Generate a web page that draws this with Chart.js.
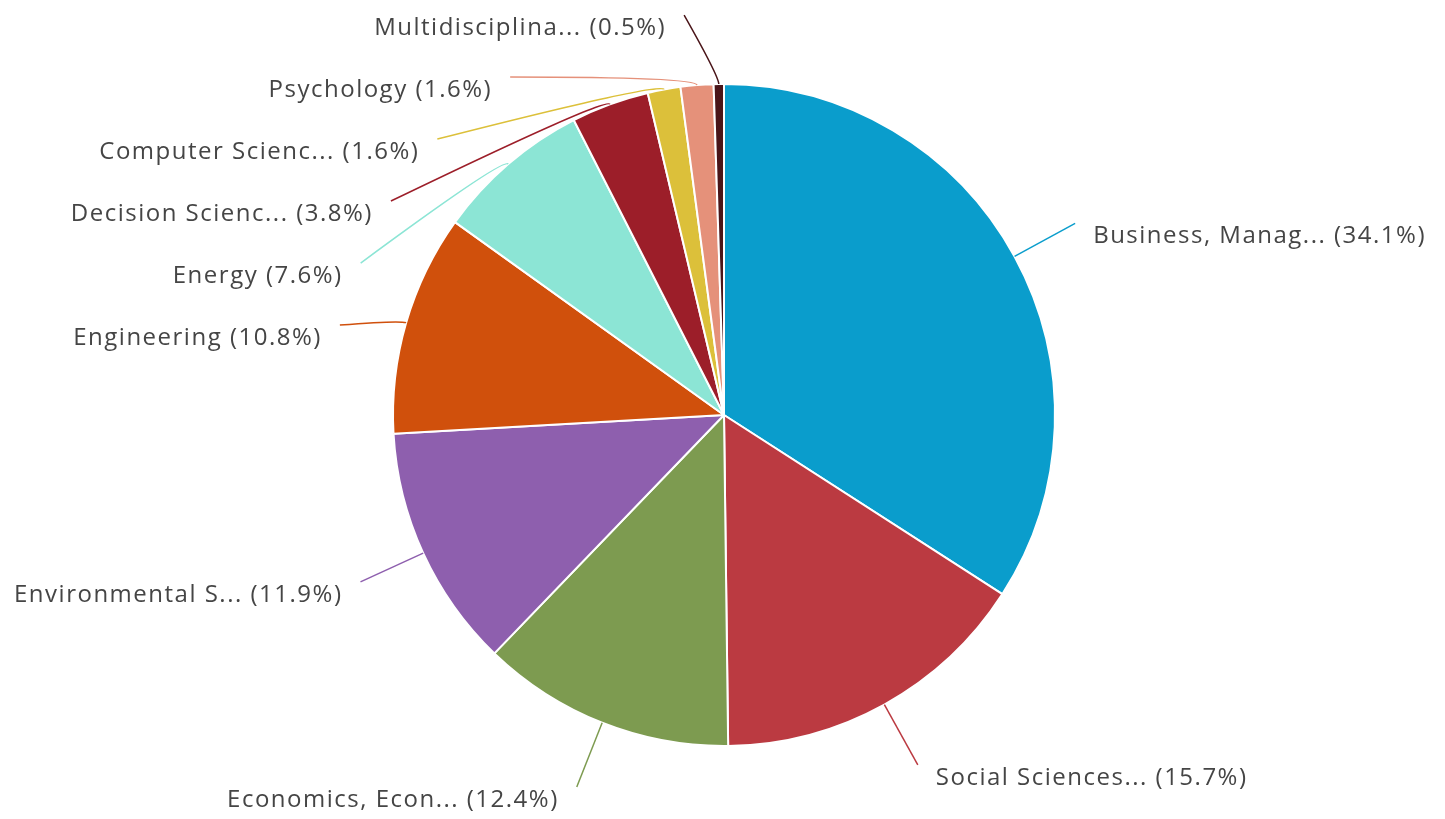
<!DOCTYPE html>
<html>
<head>
<meta charset="utf-8">
<title>Documents by subject area</title>
<script src="https://cdn.jsdelivr.net/npm/chart.js@4.4.1/dist/chart.umd.min.js"></script>
<style>
  html, body { margin: 0; padding: 0; background: #ffffff; }
  #chart { display: block; }
</style>
</head>
<body>
<canvas id="chart" width="1445" height="819"></canvas>
<script>
// Subject areas, clockwise from 12 o'clock
const subjects = [
  "Business, Manag...",
  "Social Sciences...",
  "Economics, Econ...",
  "Environmental S...",
  "Engineering",
  "Energy",
  "Decision Scienc...",
  "Computer Scienc...",
  "Psychology",
  "Multidisciplina..."
];
const shares = [34.1, 15.7, 12.4, 11.9, 10.8, 7.6, 3.8, 1.6, 1.6, 0.5];
const sliceColors = [
  "#0a9dcc", "#bb3a41", "#7d9b50", "#8e5fae", "#d0500c",
  "#8ce5d5", "#9c1e29", "#dcc03a", "#e5917a", "#4a1519"
];

// Labels with soft connector lines, placed around the pie
const sliceLabels = {
  id: "sliceLabels",
  afterDatasetsDraw(chart) {
    const ctx = chart.ctx;
    const arcs = chart.getDatasetMeta(0).data;
    const items = arcs.map(function (arc, i) {
      const mid = (arc.startAngle + arc.endAngle) / 2;
      const R = arc.outerRadius;
      return {
        i: i, arc: arc, mid: mid, R: R,
        side: Math.cos(mid) >= 0 ? 1 : -1,
        y: arc.y + 13 + (R + 69) * Math.sin(mid)
      };
    });

    // keep labels on each side apart
    [-1, 1].forEach(function (side) {
      const list = items.filter(it => it.side === side).sort((a, b) => a.y - b.y);
      let prev = -Infinity;
      list.forEach(function (it) {
        it.y = Math.max(it.y, prev + 62, 28);
        prev = it.y;
      });
    });

    ctx.save();
    ctx.font = "24px 'Open Sans', sans-serif";
    if ("letterSpacing" in ctx) ctx.letterSpacing = "1.5px";
    ctx.textBaseline = "middle";
    items.forEach(function (it) {
      const arc = it.arc;
      const dy = it.y - arc.y;
      const rl = it.R + 58;
      const off = Math.max(Math.sqrt(Math.max(rl * rl - dy * dy, 0)), Math.abs(Math.cos(it.mid)) * (it.R + 69));
      const ax = arc.x + it.side * off;
      const ay = it.y - 13;
      const ex = arc.x + it.R * Math.cos(it.mid);
      const ey = arc.y + it.R * Math.sin(it.mid);
      const cx = arc.x + (it.R + 8) * Math.cos(it.mid);
      const cy = arc.y + (it.R + 8) * Math.sin(it.mid);

      ctx.strokeStyle = sliceColors[it.i];
      ctx.lineWidth = 1.5;
      ctx.beginPath();
      ctx.moveTo(ax, ay);
      ctx.quadraticCurveTo(cx, cy, ex, ey);
      ctx.stroke();

      ctx.fillStyle = "#454545";
      ctx.textAlign = it.side > 0 ? "left" : "right";
      ctx.fillText(subjects[it.i] + " (" + shares[it.i] + "%)", ax + it.side * 18, it.y);
    });
    ctx.restore();
  }
};

new Chart(document.getElementById("chart").getContext("2d"), {
  type: "pie",
  data: {
    labels: subjects,
    datasets: [{
      data: shares,
      backgroundColor: sliceColors,
      borderColor: "#ffffff",
      borderWidth: 2
    }]
  },
  options: {
    responsive: false,
    animation: false,
    layout: { padding: { top: 83, bottom: 72, left: 3, right: 0 } },
    plugins: {
      legend: { display: false },
      tooltip: { enabled: false }
    }
  },
  plugins: [sliceLabels]
});
</script>
</body>
</html>
